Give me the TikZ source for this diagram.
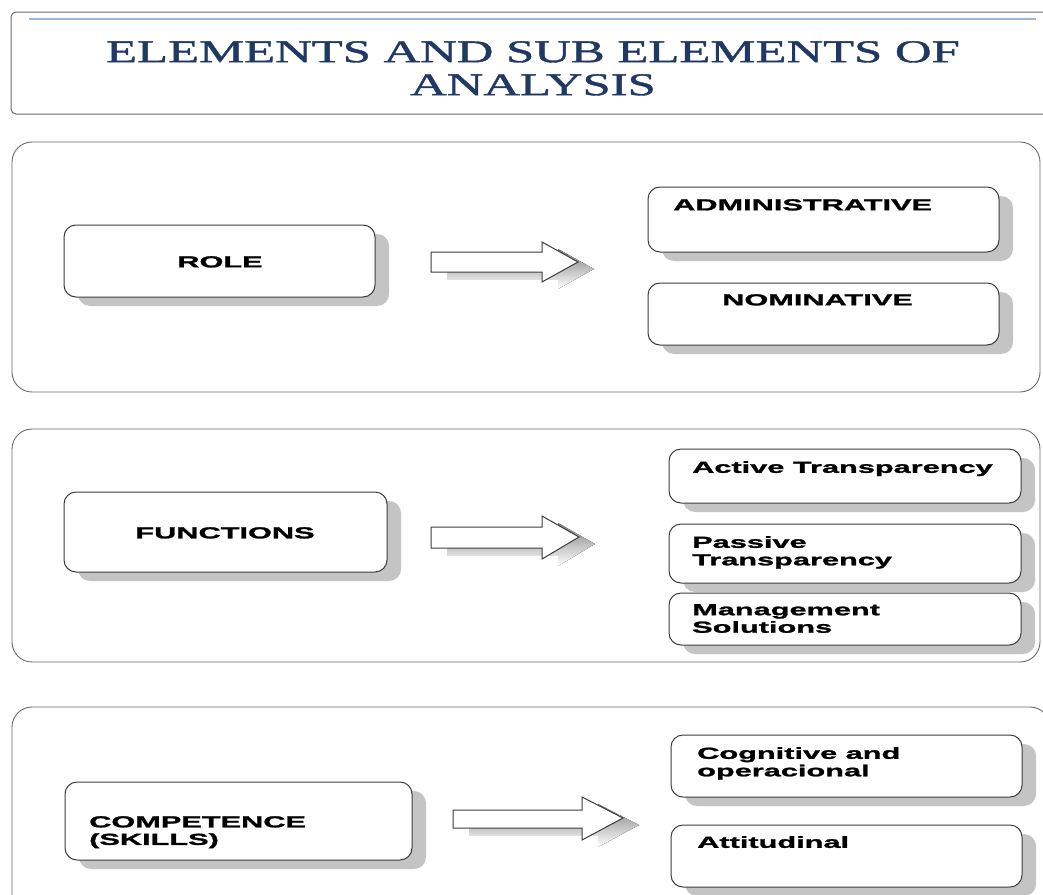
\documentclass[tikz,border=0pt]{standalone}
\usepackage{fontspec}
\usetikzlibrary{shadows}
\newfontfamily\boxfont{Liberation Sans}[UprightFont=*-Bold, BoldFont=*-Bold, FakeStretch=1.92, FakeBold=1.5]
\newfontfamily\titlefont{Liberation Serif}[FakeStretch=1.6, FakeBold=1.2]
\definecolor{titleblue}{HTML}{1F3864}
\definecolor{ruleblue}{HTML}{9BB7DA}
\definecolor{shade}{HTML}{C4C4C4}
\definecolor{edge}{HTML}{3C3C3C}
\definecolor{paneledge}{HTML}{6A6A6A}
\newcommand\blockarr[8]{% x0 xh xt ys1 ys2 yh1 yh2 ytip
  \fill[shade,shift={(16,7)}] (#1,#4) -- (#2,#4) -- (#2,#6) -- (#3,#8) -- (#2,#7) -- (#2,#5) -- (#1,#5) -- cycle;
  \draw[blockarrow] (#1,#4) -- (#2,#4) -- (#2,#6) -- (#3,#8) -- (#2,#7) -- (#2,#5) -- (#1,#5) -- cycle;}
\begin{document}
\begin{tikzpicture}[x=1pt,y=-1pt,
  panel/.style={draw=paneledge, line width=0.9pt, rounded corners=20pt},
  subbox/.style={draw=edge, line width=1pt, fill=white, rounded corners=12pt, inner sep=0pt,
    drop shadow={shadow xshift=14pt, shadow yshift=-9pt, fill=shade, opacity=1}},
  lbl/.style={inner sep=0pt, font=\boxfont\fontsize{16}{17.5}\selectfont, align=left, text=black},
  blockarrow/.style={draw=edge, line width=1pt, fill=white}]
\useasboundingbox (0,0) rectangle (1043,894);
\clip (0,0) rectangle (1043,894);
\fill[white] (0,0) rectangle (1043,894);

% title
\draw[draw=paneledge, line width=1pt, rounded corners=5pt] (11,12) rectangle (1080,114);
\draw[ruleblue, line width=2pt] (29,19) -- (1036,19);
\node[inner sep=0pt, anchor=north, align=center, text=titleblue,
  font=\titlefont\fontsize{31.7}{33}\selectfont] (title) at (533,41)
  {ELEMENTS AND SUB ELEMENTS OF\\ANALYSIS};

% panels
\draw[panel] (12,142) rectangle (1040,392);
\draw[panel] (12,429) rectangle (1040,662);
\draw[panel] (12,707) rectangle (1050,930);

% panel 1
\node[subbox, minimum width=311pt, minimum height=72pt] (role) at (219.5,261) {};
\node[lbl, anchor=north] (roleT) at (220,256) {ROLE};
\blockarr{431}{542}{578}{252}{272}{242}{282}{262}
\node[subbox, minimum width=351pt, minimum height=65pt] (admin) at (823.5,219.5) {};
\node[lbl, anchor=north west] (adminT) at (673,199) {ADMINISTRATIVE};
\node[subbox, minimum width=351pt, minimum height=62pt] (nomin) at (823.5,314) {};
\node[lbl, anchor=north west] (nominT) at (722,294) {NOMINATIVE};

% panel 2
\node[subbox, minimum width=323pt, minimum height=80pt] (func) at (225.5,532) {};
\node[lbl, anchor=north] (funcT) at (225,527) {FUNCTIONS};
\blockarr{431}{542}{579}{527}{548}{516}{559}{537}
\node[subbox, minimum width=352pt, minimum height=54pt] (active) at (845,476) {};
\node[lbl, anchor=north west] (activeT) at (692,461) {Active Transparency};
\node[subbox, minimum width=352pt, minimum height=59pt] (passive) at (845,553.5) {};
\node[lbl, anchor=north west] (passiveT) at (692,536) {Passive\\Transparency};
\node[subbox, minimum width=352pt, minimum height=52pt] (manage) at (845,619) {};
\node[lbl, anchor=north west] (manageT) at (692,604) {Management\\Solutions};

% panel 3
\node[subbox, minimum width=347pt, minimum height=78pt] (comp) at (238.5,821) {};
\node[lbl, anchor=north west] (compT) at (89,816) {COMPETENCE\\(SKILLS)};
\blockarr{453}{582}{623}{810}{828}{797}{840}{818}
\node[subbox, minimum width=351pt, minimum height=62pt] (cogn) at (846.5,766) {};
\node[lbl, anchor=north west] (cognT) at (697,747) {Cognitive and\\operacional};
\node[subbox, minimum width=351pt, minimum height=62pt] (attit) at (846.5,856) {};
\node[lbl, anchor=north west] (attitT) at (697,836) {Attitudinal};
\end{tikzpicture}
\end{document}
